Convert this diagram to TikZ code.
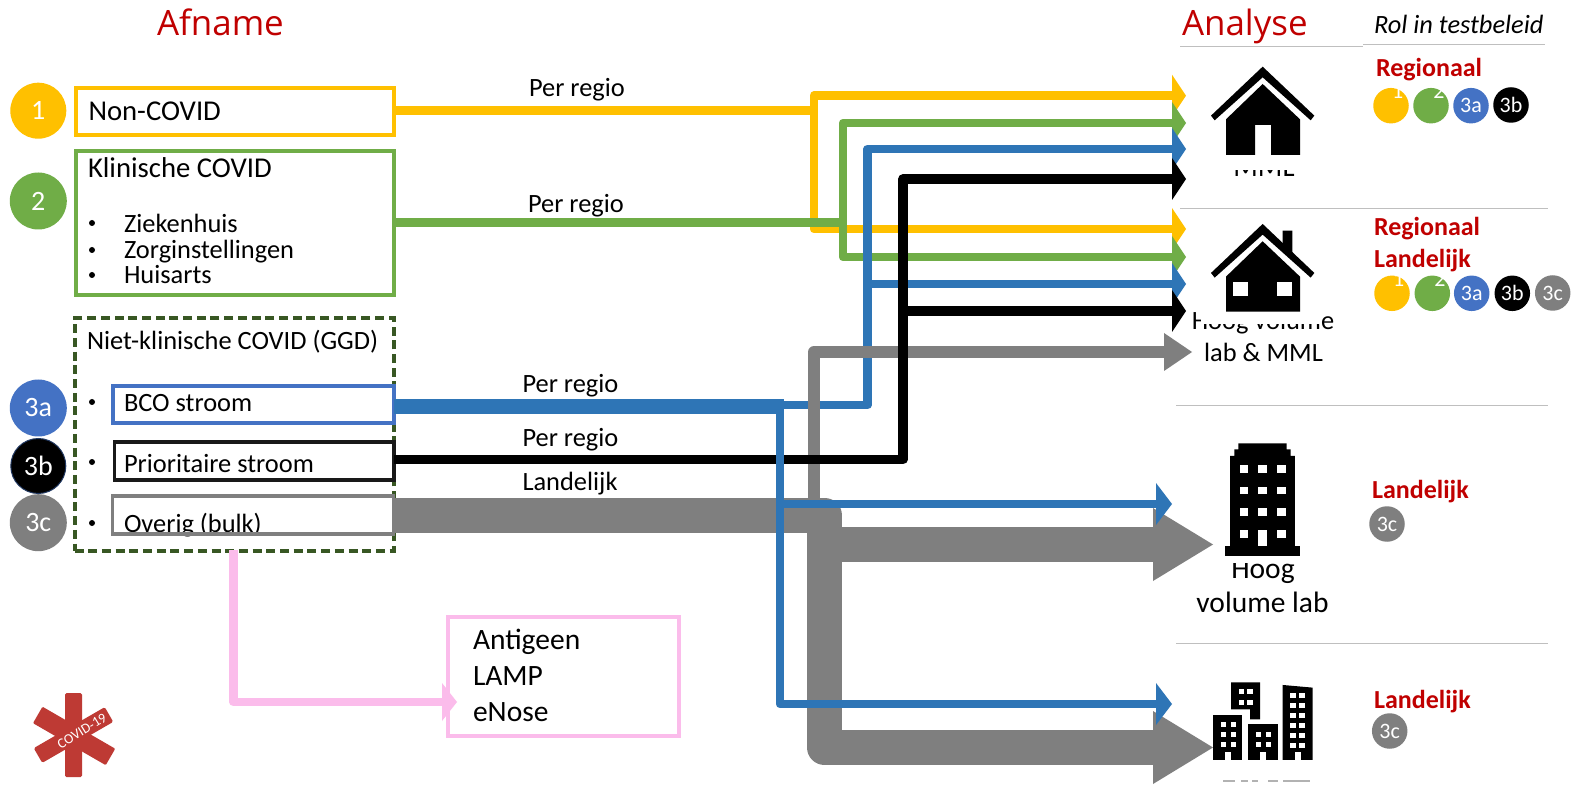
\documentclass[tikz,border=0pt]{standalone}
\usepackage{fontspec}
\setmainfont{Carlito}
\newfontfamily\headfont{Open Sans}
\usetikzlibrary{arrows.meta}
\definecolor{cY}{HTML}{FFC000}
\definecolor{cG}{HTML}{70AD47}
\definecolor{cB}{HTML}{2E75B6}
\definecolor{cBb}{HTML}{4472C4}
\definecolor{cK}{HTML}{000000}
\definecolor{cGr}{HTML}{7F7F7F}
\definecolor{cP}{HTML}{FBBCEB}
\definecolor{cR}{HTML}{C00000}
\definecolor{cDG}{HTML}{385723}
\definecolor{cRule}{HTML}{BFBFBF}
\definecolor{cLogo}{HTML}{BE3A34}
\tikzset{
 txt/.style={anchor=base west,inner sep=0pt,outer sep=0pt,yshift=-1pt},
 ctxt/.style={anchor=base,inner sep=0pt,outer sep=0pt},
 f26/.style={font=\fontsize{26.4}{26}\selectfont},
 f28/.style={font=\fontsize{28.7}{28}\selectfont},
 f29/.style={font=\fontsize{29.5}{29}\selectfont},
 head/.style={text=cR,font=\fontsize{34.9}{35}\headfont},
 role/.style={text=cR,font=\fontsize{26}{26}\selectfont\bfseries},
 box/.style={draw,inner sep=0pt,outer sep=0pt,line width=4pt,minimum width=#1},
 big/.style={circle,inner sep=0pt,outer sep=0pt,minimum size=1pt,text=white,font=\fontsize{28}{28}\selectfont},
 small/.style={circle,inner sep=0pt,outer sep=0pt,minimum size=35.5pt,text=white,font=\fontsize{22}{22}\selectfont},
 conn/.style={line join=round,line cap=butt},
 hY/.style={-{Triangle[length=14pt,width=42pt,line width=0pt]}},
 hB/.style={-{Triangle[length=16pt,width=42pt,line width=0pt]}},
 hGs/.style={-{Triangle[length=28pt,width=38pt,line width=0pt]}},
 hGb/.style={-{Triangle[length=60pt,width=73pt,line width=0pt]}},
 hP/.style={-{Triangle[length=15pt,width=38pt,line width=0pt]}},
 rulel/.style={draw=cRule,line width=1pt},
 bul/.style={circle,fill=black,inner sep=0pt,minimum size=6pt},
 ico/.style={fill=black,draw=none},
 hole/.style={fill=white,draw=none},
}
\begin{document}
\begin{tikzpicture}[x=1pt,y=-1pt]
\useasboundingbox (0,0) rectangle (1572,791);
\clip (0,0) rectangle (1572,791);
\fill[white] (0,0) rectangle (1572,791);

% headings
\node[txt,head] (afname) at (157,34.5) {Afname};
\node[txt,head] (analyse) at (1182,34.5) {Analyse};
\node[txt,font=\fontsize{26.4}{26}\selectfont\itshape] (rol) at (1374,33) {Rol in testbeleid};

% rules
\draw[rulel] (1180,46.7) -- (1363,46.7);
\draw[rulel] (1363,45) -- (1545,45);
\draw[rulel] (1180,209) -- (1548,209);
\draw[rulel] (1176,405.5) -- (1548,405.5);
\draw[rulel] (1176,643) -- (1548,643);

% left-hand texts
\node[txt,f28] (tnon) at (88.5,119.5) {Non-COVID};
\node[txt,f28] (tkli) at (88,176.5) {Klinische COVID};
\node[bul] (b1) at (92,223) {};
\node[bul] (b2) at (92,250) {};
\node[bul] (b3) at (92,275) {};
\node[txt,f26] (tzie) at (124,231.5) {Ziekenhuis};
\node[txt,f26] (tzor) at (124,258) {Zorginstellingen};
\node[txt,f26] (thui) at (124,283) {Huisarts};
\node[draw=cDG,line width=4pt,dash pattern=on 9pt off 4.7pt,minimum width=319.5pt,minimum height=232pt,inner sep=0pt,outer sep=0pt] (ggd) at (234.25,434.5) {};
\node[txt,f26] (tnie) at (87,349) {Niet-klinische COVID (GGD)};
\node[bul] (b4) at (92,402) {};
\node[bul] (b5) at (92,462) {};
\node[bul] (b6) at (92,523) {};
\node[txt,f26] (tbco) at (124,410.5) {BCO stroom};
\node[txt,f26] (tpri) at (124,471) {Prioritaire stroom};
\node[txt,f26] (tove) at (124,531.5) {Overig (bulk)};

% boxes
\node[box=318pt,draw=cY,minimum height=47pt] (box1) at (234.5,111.5) {};
\node[box=318pt,draw=cG,minimum height=144pt] (box2) at (234.5,223) {};
\node[box=281pt,draw=cBb,minimum height=37pt] (bco) at (253.5,404.5) {};
\node[box=279.5pt,draw=black!90,minimum height=38pt,line width=3.5pt] (pri) at (254.25,461) {};
\node[box=281pt,draw=cGr,minimum height=38pt,line width=3.5pt] (ove) at (253,515) {};
\node[box=231pt,draw=cP,minimum height=119pt] (pink) at (563.5,676.5) {};

% numbered circles
\node[big,fill=cY,minimum size=56pt] (c1) at (38.3,110.7) {1};
\node[big,fill=cG,minimum size=57pt] (c2) at (38.3,201) {2};
\node[big,fill=cBb,minimum size=57pt] (c3a) at (38.3,408) {3a};
\node[big,fill=black,draw=cBb!50!black,line width=1pt,minimum size=55pt] (c3b) at (38.3,466) {3b};
\node[big,fill=cGr,minimum size=57pt] (c3c) at (38.3,522.7) {3c};

% labels on connectors
\node[txt,f26] (l1) at (529,95.5) {Per regio};
\node[txt,f26] (l2) at (528,211.5) {Per regio};
\node[txt,f26] (l3) at (522.5,392) {Per regio};
\node[txt,f26] (l4) at (522.5,445.5) {Per regio};
\node[txt,f26] (l5) at (522.5,489) {Landelijk};

% end points
\coordinate (jY) at (814,110.7);
\coordinate (tY1) at (1186,95.7);
\coordinate (tY2) at (1186,229);
\coordinate (jG) at (843,222.7);
\coordinate (tG1) at (1186,123);
\coordinate (tG2) at (1186,257);
\coordinate (jB) at (780,405);
\coordinate (jB2) at (867.5,405);
\coordinate (jB3) at (867.5,284);
\coordinate (tB1) at (1186,149);
\coordinate (tB2) at (1186,284);
\coordinate (jK) at (903,459.5);
\coordinate (jK2) at (903,311);
\coordinate (tK1) at (1186,179);
\coordinate (tK2) at (1186,311);
\coordinate (jS) at (814,515);
\coordinate (tGs) at (1192,352);
\coordinate (jT) at (824.5,515);
\coordinate (jT2) at (824.5,544.5);
\coordinate (tT1) at (1213,544.5);
\coordinate (tT2) at (1213,747.5);
\coordinate (jB4) at (780,504);
\coordinate (tB3) at (1172,504);
\coordinate (tB4) at (1172,704);
\coordinate (jP) at (233.5,702);
\coordinate (jP0) at (233.5,550);
\coordinate (tP) at (457,702);
\coordinate (jBt) at (784,406.5);

% yellow
\draw[conn,cY,line width=8.7pt] (box1.east |- jY) -- (jY);
\draw[conn,cY,line width=8.7pt,hY] (jY) -- (jY |- tY1) -- (tY1);
\draw[conn,cY,line width=8.7pt,hY] (jY) -- (jY |- tY2) -- (tY2);
% green
\draw[conn,cG,line width=8.7pt,hY] (jG) -- (jG |- tG1) -- (tG1);
\draw[conn,cG,line width=8.7pt,hY] (jG) -- (jG |- tG2) -- (tG2);
\draw[conn,cG,line width=8.7pt] (box2.east |- jG) -- ([xshift=3pt]jG);
% upper blue
\draw[conn,cB,line width=8.7pt,hY] (jB) -- (jB2) -- (jB2 |- tB1) -- (tB1);
\draw[conn,cB,line width=8.7pt,hY] (jB3) -- (tB2);
% gray
\draw[conn,cGr,line width=12pt,hGs] (jS) -- (jS |- tGs) -- (tGs);
\draw[conn,cGr,line width=35pt,hGb] (ove.east) -- (jT) -- (jT |- tT2) -- (tT2);
\draw[conn,cGr,line width=35pt,hGb] (jT2) -- (tT1);
% black
\draw[conn,black,line width=9.5pt,hY] (pri.east |- jK) -- (jK) -- (jK |- tK1) -- (tK1);
\draw[conn,black,line width=9.5pt,hY] (jK2) -- (tK2);
% lower blue
\draw[conn,cB,line width=15pt] (bco.east |- jBt) -- (jBt);
\draw[conn,cB,line width=8.7pt,hB] (jB) -- (jB |- tB4) -- (tB4);
\draw[conn,cB,line width=8.7pt,hB] (jB4) -- (tB3);
% pink
\draw[conn,cP,line width=8.7pt,hP] (jP0) -- (jP) -- (tP);

% pink box text
\node[txt,f29] (tant) at (473,648) {Antigeen};
\node[txt,f29] (tlam) at (473,684) {LAMP};
\node[txt,f29] (teno) at (473,720) {eNose};

% analyse labels (partly hidden by the icons' white backgrounds)
\node[ctxt,f28] (tmml) at (1264,176.7) {MML};
\fill[white] (1225,140) rectangle (1305,170);
\node[ctxt,f26] (thv) at (1263,330) {Hoog volume};
\fill[white] (1201,300) rectangle (1322,324.5);
\node[ctxt,f26] (tlab) at (1263.5,361.7) {lab \& MML};
\node[ctxt,f29] (thoog) at (1263,578) {Hoog};
\fill[white] (1226,540) rectangle (1300,563);
\node[ctxt,f29] (tvol) at (1262.5,612) {volume lab};
\foreach \a/\b in {1223/1235,1241/1248,1252/1258,1268/1278,1283/1310}
  \fill[gray!60] (\a,780) rectangle (\b,782);

% house 1
\begin{scope}[shift={(1170,0)},x=0.3333pt,y=-0.3333pt]
\fill[ico] (123,347)--(278,200)--(433,347)--(422,361)--(278,232)--(134,361)--cycle;
\fill[ico] (168,465)--(168,358)--(278,252)--(390,358)--(390,465)--(303,465)--(303,375)--(255,375)--(255,465)--cycle;
\end{scope}
% house 2
\begin{scope}[shift={(1170,157.3)},x=0.3333pt,y=-0.3333pt]
\fill[ico] (338,220)--(367,220)--(367,300)--(338,275)--cycle;
\fill[ico] (123,347)--(278,200)--(433,347)--(422,361)--(278,232)--(134,361)--cycle;
\fill[ico] (168,463)--(168,358)--(278,252)--(390,358)--(390,463)--cycle;
\fill[hole] (190,373) rectangle (235,415);
\fill[hole] (322,373) rectangle (367,415);
\end{scope}
% tall building
\begin{scope}[shift={(1140,400)},x=0.3333pt,y=-0.3333pt]
\fill[ico] (255,438) rectangle (480,467);
\fill[ico] (270,438)--(270,168)--(283,168)--(283,148)--(295,148)--(295,130)--(440,130)--(440,148)--(452,148)--(452,168)--(465,168)--(465,438)--cycle;
\foreach \yy in {195,260,325,390}
  \foreach \xx in {300,355,412}
    \fill[hole] (\xx,\yy) rectangle ++(25,23);
\fill[hole] (355,400) rectangle (380,438);
\end{scope}
% city
\begin{scope}[shift={(1140,400)},x=0.3333pt,y=-0.3333pt]
\fill[ico] (273,847)--(360,847)--(360,958)--(330,958)--(330,928)--(273,928)--cycle;
\foreach \yy in {868,900} \foreach \xx in {297,322} \fill[hole] (\xx,\yy) rectangle ++(16,15);
\fill[ico] (220,945) rectangle (307,1080);
\fill[hole] (255,1055) rectangle (272,1080);
\foreach \yy in {967,997,1027} \foreach \xx in {243,272} \fill[hole] (\xx,\yy) rectangle ++(16,15);
\fill[ico] (325,973) rectangle (413,1080);
\fill[hole] (360,1055) rectangle (378,1080);
\foreach \yy in {997,1027} \foreach \xx in {347,377} \fill[hole] (\xx,\yy) rectangle ++(16,15);
\fill[ico] (428,855)--(518,863)--(518,1080)--(428,1080)--cycle;
\fill[hole] (465,1055) rectangle (482,1080);
\foreach \yy in {880,910,940,970,1000,1030} \foreach \xx in {450,478} \fill[hole] (\xx,\yy) rectangle ++(17,15);
\end{scope}

% role labels
\node[txt,role] (r1) at (1376,76) {Regionaal};
\node[small,fill=cY] (s1) at (1391,105.7) {};
\node[small,fill=cG] (s2) at (1431,105.7) {};
\node[small,fill=cBb] (s3) at (1471,105.7) {3a};
\node[small,fill=black] (s4) at (1511,105) {3b};
\node[ctxt,text=white,font=\fontsize{22}{22}\selectfont] (s1t) at (1397.7,99) {1};
\node[ctxt,text=white,font=\fontsize{22}{22}\selectfont] (s2t) at (1439,99) {2};
\node[txt,role] (r2) at (1374,235) {Regionaal};
\node[txt,role] (r3) at (1374,266.7) {Landelijk};
\node[small,fill=cY] (p1) at (1392,293.3) {};
\node[small,fill=cG] (p2) at (1432.3,293.3) {};
\node[small,fill=cBb] (p3) at (1471.7,293.3) {3a};
\node[small,fill=black] (p4) at (1512.3,293.3) {3b};
\node[small,fill=cGr] (p5) at (1552.7,293) {3c};
\node[ctxt,text=white,font=\fontsize{22}{22}\selectfont] (p1t) at (1398.7,286.7) {1};
\node[ctxt,text=white,font=\fontsize{22}{22}\selectfont] (p2t) at (1440,286.7) {2};
\node[txt,role] (r4) at (1372,497.7) {Landelijk};
\node[small,fill=cGr] (q1) at (1387,524) {3c};
\node[txt,role] (r5) at (1374,707.7) {Landelijk};
\node[small,fill=cGr] (q2) at (1389.7,731) {3c};

% COVID logo
\begin{scope}[shift={(73.5,735)}]
\fill[cLogo,rounded corners=1.5pt] (-8.5,-42) rectangle (8.5,42);
\fill[cLogo,rotate=30,rounded corners=1.5pt] (-41,-8.5) rectangle (41,8.5);
\fill[cLogo,rotate=-30,rounded corners=1pt] (-41,-9) rectangle (43,10);
\end{scope}
\node[rotate=31.5,text=white,inner sep=0pt,font=\fontsize{14}{14}\selectfont] (logo) at (82,731) {COVID-19};
\end{tikzpicture}
\end{document}
